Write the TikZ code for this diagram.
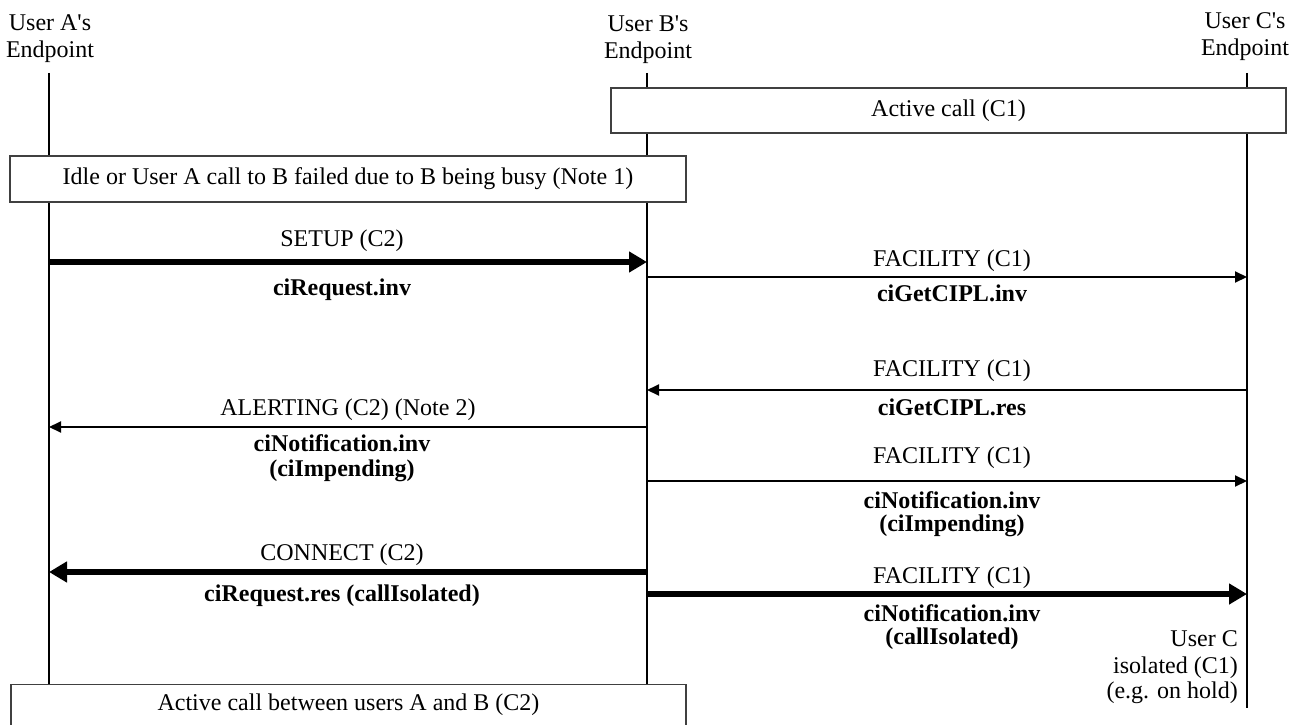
\documentclass[tikz,border=0pt]{standalone}
\usepackage{fontspec}
\setmainfont{Liberation Serif}
\usetikzlibrary{arrows.meta}
\begin{document}
\begin{tikzpicture}[x=1pt,y=-1pt,
  txt/.style={font=\fontsize{24}{27}\selectfont, inner sep=0pt, anchor=base},
  btxt/.style={txt, font=\fontsize{24}{27}\selectfont\bfseries},
  rtxt/.style={txt, anchor=base east},
  lifeline/.style={line width=2pt},
  msg/.style={line width=2pt, -{Triangle[length=12pt,width=11pt]}},
  bigmsg/.style={line width=5.5pt, -{Triangle[length=18pt,width=20pt]}},
  statebox/.style={draw=black!75, line width=1.3pt, fill=white, inner sep=0pt,
    font=\fontsize{24}{27}\selectfont}]
\useasboundingbox (0,0) rectangle (1304,725);
\clip (0,0) rectangle (1304,725);

% endpoint headings
\node[txt] (hA1) at (50,31) {User A\textquotesingle s};
\node[txt] (hA2) at (50,58) {Endpoint};
\node[txt] (hB1) at (648,32) {User B\textquotesingle s};
\node[txt] (hB2) at (648,59) {Endpoint};
\node[txt] (hC1) at (1245,29) {User C\textquotesingle s};
\node[txt] (hC2) at (1245,56) {Endpoint};

% lifelines
\coordinate (A0) at (49,73);   \coordinate (A1) at (49,684);
\coordinate (B0) at (647,73);  \coordinate (B1) at (647,684);
\coordinate (C0) at (1247,73); \coordinate (C1) at (1247,708);
\draw[lifeline] (A0) -- (A1);
\draw[lifeline] (B0) -- (B1);
\draw[lifeline] (C0) -- (C1);

% state boxes
\node[statebox, minimum width=675pt, minimum height=45pt] (st1) at (948.5,110.5) {Active call (C1)};
\node[statebox, minimum width=676pt, minimum height=46pt] (st2) at (348,179)
  {Idle or User A call to B failed due to B being busy (Note 1)};
\node[statebox, minimum width=675pt, minimum height=46pt, anchor=north] (st3) at (348.5,684) {};
\node[txt] (st3t) at (348.5,710) {Active call between users A and B (C2)};

% SETUP A -> B
\coordinate (m1a) at (49,262); \coordinate (m1b) at (647,262);
\draw[bigmsg] (m1a) -- (m1b);
\node[txt]  (m1t) at (342,246) {SETUP (C2)};
\node[btxt] (m1s) at (342,295) {ciRequest.inv};

% FACILITY B -> C
\coordinate (m2b) at (647,277); \coordinate (m2c) at (1247,277);
\draw[msg] (m2b) -- (m2c);
\node[txt]  (m2t) at (952,266) {FACILITY (C1)};
\node[btxt] (m2s) at (952,301) {ciGetCIPL.inv};

% FACILITY C -> B
\coordinate (m3c) at (1247,390); \coordinate (m3b) at (647,390);
\draw[msg] (m3c) -- (m3b);
\node[txt]  (m3t) at (952,376) {FACILITY (C1)};
\node[btxt] (m3s) at (952,415) {ciGetCIPL.res};

% ALERTING B -> A
\coordinate (m4b) at (647,427); \coordinate (m4a) at (49,427);
\draw[msg] (m4b) -- (m4a);
\node[txt]  (m4t) at (348,415) {ALERTING (C2) (Note 2)};
\node[btxt] (m4s) at (342,451) {ciNotification.inv};
\node[btxt] (m4u) at (342,476) {(ciImpending)};

% FACILITY B -> C
\coordinate (m5b) at (647,481); \coordinate (m5c) at (1247,481);
\draw[msg] (m5b) -- (m5c);
\node[txt]  (m5t) at (952,463) {FACILITY (C1)};
\node[btxt] (m5s) at (952,508) {ciNotification.inv};
\node[btxt] (m5u) at (952,531) {(ciImpending)};

% CONNECT B -> A
\coordinate (m6b) at (647,572); \coordinate (m6a) at (49,572);
\draw[bigmsg] (m6b) -- (m6a);
\node[txt]  (m6t) at (342,560) {CONNECT (C2)};
\node[btxt] (m6s) at (342,601) {ciRequest.res (callIsolated)};

% FACILITY B -> C
\coordinate (m7b) at (647,594); \coordinate (m7c) at (1247,594);
\draw[bigmsg] (m7b) -- (m7c);
\node[txt]  (m7t) at (952,583) {FACILITY (C1)};
\node[btxt] (m7s) at (952,621) {ciNotification.inv};
\node[btxt] (m7u) at (952,644) {(callIsolated)};

% final state of user C
\node[rtxt] (n1) at (1238,646) {User C};
\node[rtxt] (n2) at (1238,673) {isolated (C1)};
\node[rtxt] (n3) at (1238,698) {(e.g. on hold)};
\end{tikzpicture}
\end{document}
